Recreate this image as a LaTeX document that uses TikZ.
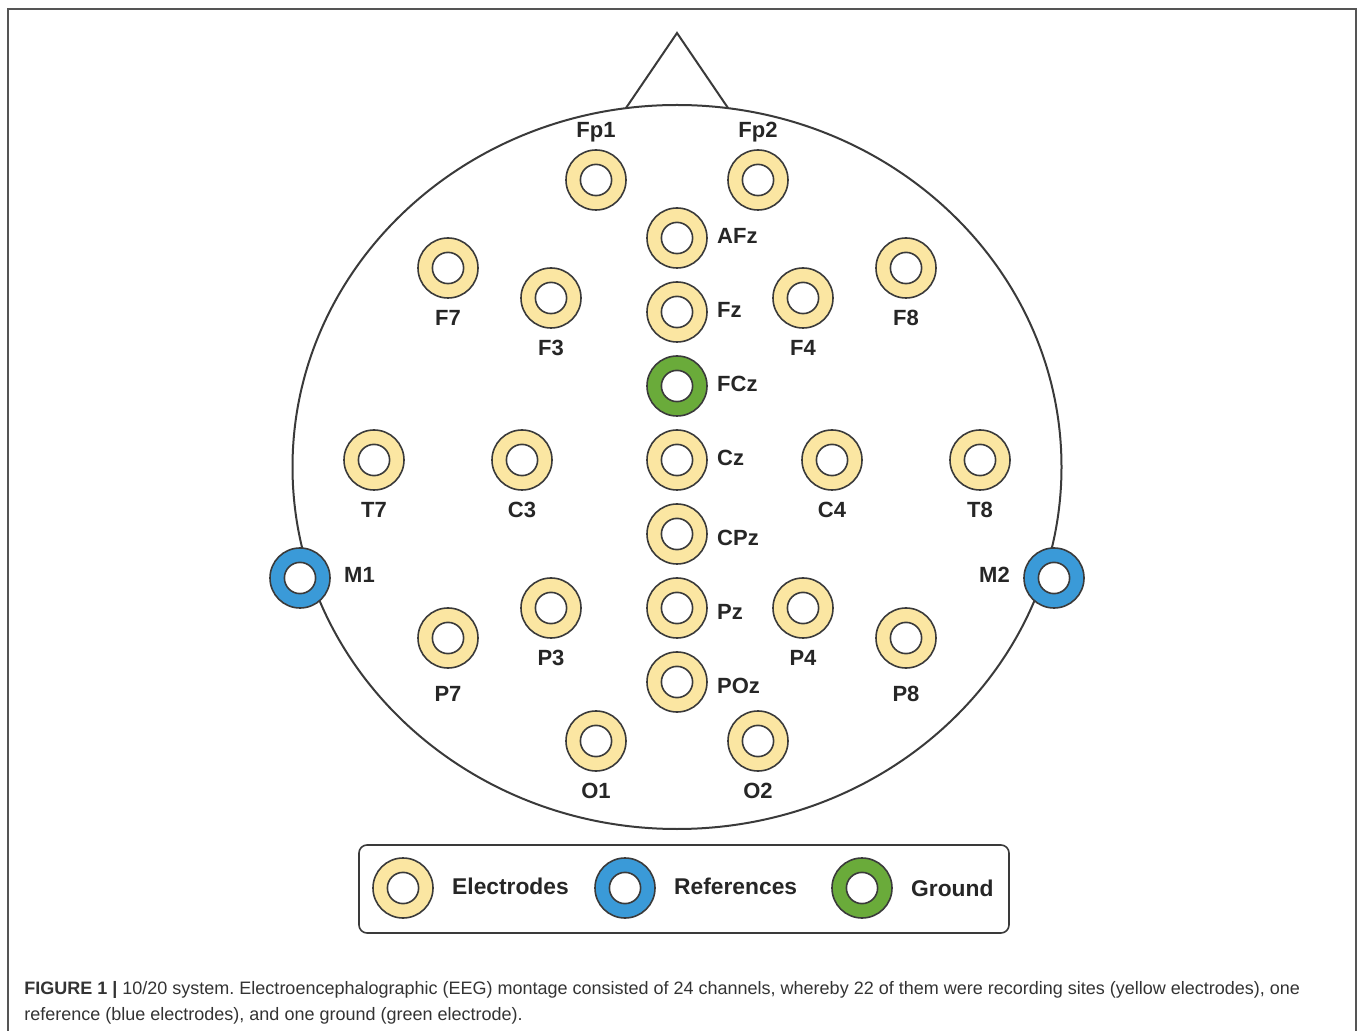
\documentclass[tikz,border=0pt]{standalone}
\usepackage{fontspec}
\setmainfont{Liberation Sans}
\usetikzlibrary{positioning}
\frenchspacing
\definecolor{ElecYellow}{HTML}{FBE6A2}
\definecolor{RefBlue}{HTML}{3A9AD8}
\definecolor{GndGreen}{HTML}{6AAB3A}
\definecolor{RingLine}{HTML}{3A3A3A}
\definecolor{FrameGray}{HTML}{555555}
\definecolor{CapGray}{HTML}{333333}

\begin{document}
\begin{tikzpicture}[x=0.5pt, y=-0.5pt,
    ring/.style={circle, draw=RingLine, line width=0.8pt, minimum size=30pt, inner sep=0pt,
      path picture={\draw[RingLine, line width=0.8pt, fill=white] (path picture bounding box.center) circle (7.8pt);}},
    lab/.style={font=\bfseries\fontsize{11}{13}\selectfont, text=black!85, inner sep=0pt}]
            \useasboundingbox (0,0) rectangle (1360,1031);
            \draw[FrameGray, line width=1pt] (8,1031) -- (8,9) -- (1356,9) -- (1356,1031);

            % head and nose
            \draw[RingLine, line width=1pt] (677,467) ellipse [x radius=384.5, y radius=362];
            \coordinate (noseL) at (626,108);
            \coordinate (apex) at (677,33);
            \coordinate (noseR) at (728,108);
            \draw[RingLine, line width=1pt] (noseL) -- (apex) -- (noseR);

            % frontal
            \node[ring, fill=ElecYellow] (fp1) at (596,180) {};
            \node[ring, fill=ElecYellow] (fp2) at (758,180) {};
            \node[ring, fill=ElecYellow] (afz) at (677,238) {};
            \node[ring, fill=ElecYellow] (f7) at (448,268) {};
            \node[ring, fill=ElecYellow] (f8) at (906,268) {};
            \node[ring, fill=ElecYellow] (f3) at (551,298) {};
            \node[ring, fill=ElecYellow] (f4) at (803,298) {};
            \node[ring, fill=ElecYellow] (fz) at (677,312) {};
            \node[ring, fill=GndGreen] (fcz) at (677,386) {};

            % central
            \node[ring, fill=ElecYellow] (t7) at (374,460) {};
            \node[ring, fill=ElecYellow] (c3) at (522,460) {};
            \node[ring, fill=ElecYellow] (cz) at (677,460) {};
            \node[ring, fill=ElecYellow] (c4) at (832,460) {};
            \node[ring, fill=ElecYellow] (t8) at (980,460) {};
            \node[ring, fill=ElecYellow] (cpz) at (677,534) {};
            \node[ring, fill=RefBlue] (m1) at (300,578) {};
            \node[ring, fill=RefBlue] (m2) at (1054,578) {};

            % parietal and occipital
            \node[ring, fill=ElecYellow] (p3) at (551,608) {};
            \node[ring, fill=ElecYellow] (pz) at (677,608) {};
            \node[ring, fill=ElecYellow] (p4) at (803,608) {};
            \node[ring, fill=ElecYellow] (p7) at (448,638) {};
            \node[ring, fill=ElecYellow] (p8) at (906,638) {};
            \node[ring, fill=ElecYellow] (poz) at (677,682) {};
            \node[ring, fill=ElecYellow] (o1) at (596,741) {};
            \node[ring, fill=ElecYellow] (o2) at (758,741) {};

            % labels
            \node[lab, above=3.5pt of fp1] (fp1lab) {Fp1};
            \node[lab, above=3.5pt of fp2] (fp2lab) {Fp2};
            \node[lab, right=4.5pt of afz, yshift=1pt] (afzlab) {AFz};
            \node[lab, right=4.5pt of fz, yshift=1pt] (fzlab) {Fz};
            \node[lab, right=4.5pt of fcz, yshift=1pt] (fczlab) {FCz};
            \node[lab, right=4.5pt of cz, yshift=1pt] (czlab) {Cz};
            \node[lab, right=4.5pt of cpz, yshift=-2pt] (cpzlab) {CPz};
            \node[lab, right=4.5pt of pz, yshift=-2pt] (pzlab) {Pz};
            \node[lab, right=4.5pt of poz, yshift=-2pt] (pozlab) {POz};
            \node[lab, below=5.5pt of f7] (f7lab) {F7};
            \node[lab, below=5.5pt of f8] (f8lab) {F8};
            \node[lab, below=5.5pt of f3] (f3lab) {F3};
            \node[lab, below=5.5pt of f4] (f4lab) {F4};
            \node[lab, below=5.5pt of t7] (t7lab) {T7};
            \node[lab, below=5.5pt of c3] (c3lab) {C3};
            \node[lab, below=5.5pt of c4] (c4lab) {C4};
            \node[lab, below=5.5pt of t8] (t8lab) {T8};
            \node[lab, below=5.5pt of p3] (p3lab) {P3};
            \node[lab, below=5.5pt of p4] (p4lab) {P4};
            \node[lab, below=8.5pt of p7] (p7lab) {P7};
            \node[lab, below=8.5pt of p8] (p8lab) {P8};
            \node[lab, below=5.5pt of o1] (o1lab) {O1};
            \node[lab, below=5.5pt of o2] (o2lab) {O2};
            \node[lab, right=6.5pt of m1, yshift=1.5pt] (m1lab) {M1};
            \node[lab, left=6.5pt of m2, yshift=1.5pt] (m2lab) {M2};

            % legend
            \node[draw=RingLine, line width=0.8pt, rounded corners=4pt, minimum width=325pt, minimum height=44pt] (legend) at (684,889) {};
            \node[ring, fill=ElecYellow] (legelec) at (403,888) {};
            \node[ring, fill=RefBlue] (legref) at (625,888) {};
            \node[ring, fill=GndGreen] (leggnd) at (862,888) {};
            \node[lab, font=\bfseries\fontsize{11.4}{13}\selectfont, right=9pt of legelec, yshift=1pt] (legelectxt) {Electrodes};
            \node[lab, font=\bfseries\fontsize{11.4}{13}\selectfont, right=9pt of legref, yshift=1pt] (legreftxt) {References};
            \node[lab, font=\bfseries\fontsize{11.4}{13}\selectfont, right=9pt of leggnd] (leggndtxt) {Ground};

            % caption
            \node[anchor=base west, align=left, inner sep=0pt, text=CapGray, font=\fontsize{9}{13}\selectfont] (caption) at (24,1020)
              {\textbf{FIGURE 1 |} 10/20 system. Electroencephalographic (EEG) montage consisted of 24 channels, whereby 22 of them were recording sites (yellow electrodes), one\\
               reference (blue electrodes), and one ground (green electrode).};
        \end{tikzpicture}
\end{document}
